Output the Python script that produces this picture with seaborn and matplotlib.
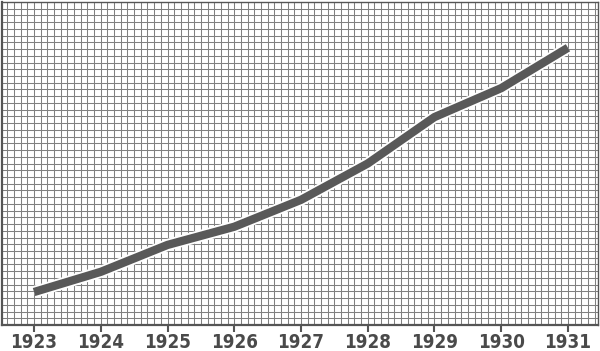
import matplotlib
matplotlib.use("Agg")
import matplotlib.pyplot as plt
import matplotlib.patheffects as pe
from matplotlib.ticker import FixedLocator
import seaborn as sns
import pandas as pd
import numpy as np

years = [1923, 1924, 1925, 1926, 1927, 1928, 1929, 1930, 1931]
values = [4.9, 7.9, 11.9, 14.6, 18.6, 24.0, 30.9, 35.2, 41.2]
tick_labels = [str(y) for y in years]

sns.set_style("white")
plt.rcParams['font.family'] = ['DejaVu Sans']

fig = plt.figure(figsize=(6.0, 3.51), dpi=100)
ax = fig.add_axes([2/600, 26/351, 596/600, 323/351])

df = pd.DataFrame({"year": years, "value": values})

grid_col = "#808080"
ax.set_xlim(1922.52, 1931.45)
ax.set_ylim(0, 48)
for x in np.arange(1922.6, 1931.45, 0.1):
    ax.axvline(x, color=grid_col, lw=0.75, zorder=1)
for y in np.arange(1, 48, 1):
    ax.axhline(y, color=grid_col, lw=0.75, zorder=1)

sns.lineplot(data=df, x="year", y="value", ax=ax, color="#595959", lw=6.0,
             solid_capstyle="butt", solid_joinstyle="round", zorder=5,
             path_effects=[pe.Stroke(linewidth=8.6, foreground="white"), pe.Normal()])

for s in ["left", "bottom", "top", "right"]:
    ax.spines[s].set_visible(True)
    ax.spines[s].set_color("#555555")
ax.spines["left"].set_linewidth(1.6)
ax.spines["bottom"].set_linewidth(1.6)
ax.spines["top"].set_linewidth(1.0)
ax.spines["right"].set_linewidth(1.0)

ax.xaxis.set_major_locator(FixedLocator(years))
ax.set_xticklabels(tick_labels, fontsize=13.5, fontweight="bold", color="#4a4a4a",
                   fontstretch="condensed")
ax.tick_params(axis="x", direction="out", length=5, width=1.5, color="#555555", pad=1, bottom=True)
ax.set_yticks([])
ax.set_xlabel("")
ax.set_ylabel("")

fig.savefig("out.png", dpi=100, facecolor="white")
